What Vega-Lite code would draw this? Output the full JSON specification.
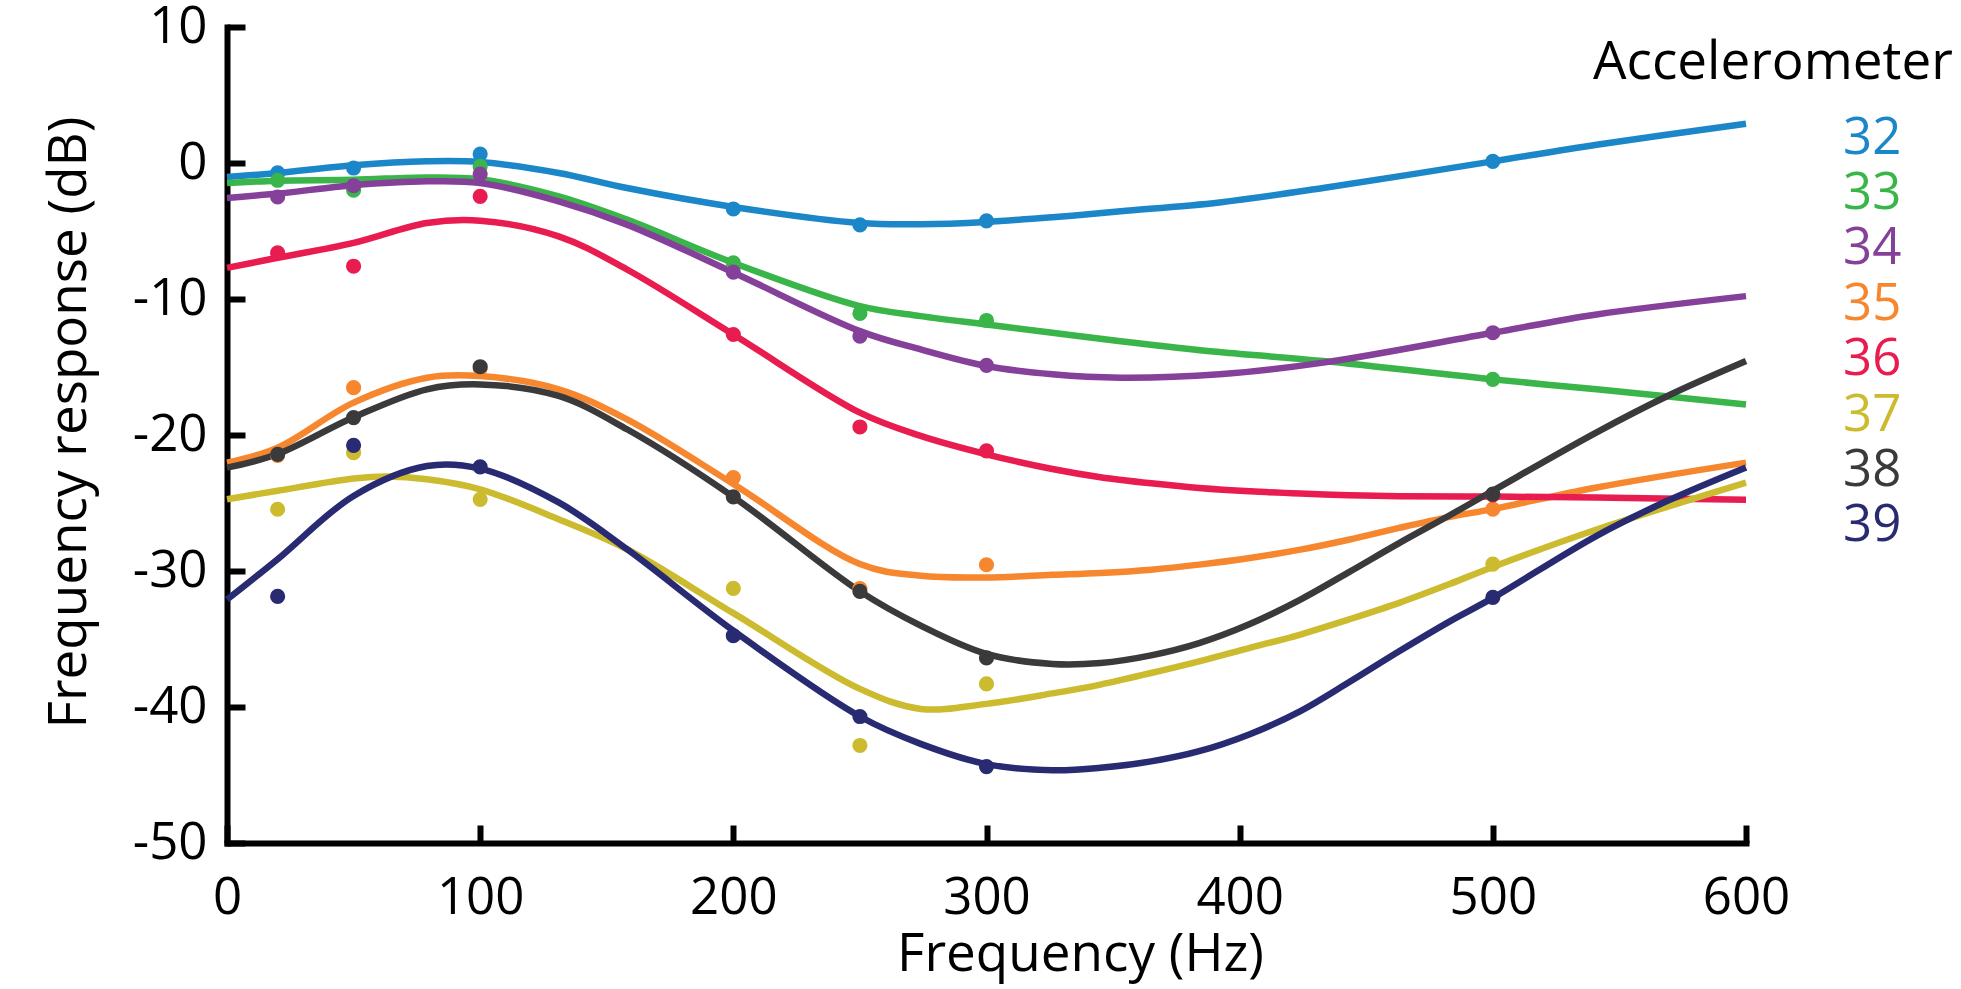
{
  "$schema": "https://vega.github.io/schema/vega-lite/v6.json",
  "width": 1519,
  "height": 816,
  "autosize": {"type": "none"},
  "padding": {"left": 227, "top": 27, "right": 215, "bottom": 146},
  "background": "white",
  "config": {
    "view": {"stroke": null},
    "font": "Open Sans",
    "axis": {
      "grid": false,
      "domainColor": "black",
      "domainWidth": 6,
      "domainCap": "square",
      "tickColor": "black",
      "tickWidth": 6,
      "tickSize": -18,
      "labelFont": "Open Sans",
      "labelFontSize": 51,
      "labelColor": "black",
      "labelExpr": "'' + datum.value",
      "titleFont": "Open Sans",
      "titleFontSize": 53,
      "titleFontWeight": "normal",
      "titleColor": "black",
      "labelFlush": false,
      "labelOverlap": false
    }
  },
  "datasets": {
    "curves": [
      {"accelerometer": "32", "frequency": 0, "response": -1.03},
      {"accelerometer": "32", "frequency": 20, "response": -0.73},
      {"accelerometer": "32", "frequency": 50, "response": -0.17},
      {"accelerometer": "32", "frequency": 79, "response": 0.12},
      {"accelerometer": "32", "frequency": 100, "response": 0.07},
      {"accelerometer": "32", "frequency": 131, "response": -0.73},
      {"accelerometer": "32", "frequency": 158, "response": -1.84},
      {"accelerometer": "32", "frequency": 200, "response": -3.23},
      {"accelerometer": "32", "frequency": 250, "response": -4.41},
      {"accelerometer": "32", "frequency": 274, "response": -4.5},
      {"accelerometer": "32", "frequency": 300, "response": -4.33},
      {"accelerometer": "32", "frequency": 326, "response": -3.99},
      {"accelerometer": "32", "frequency": 353, "response": -3.55},
      {"accelerometer": "32", "frequency": 392, "response": -2.9},
      {"accelerometer": "32", "frequency": 433, "response": -1.84},
      {"accelerometer": "32", "frequency": 500, "response": 0.12},
      {"accelerometer": "32", "frequency": 541, "response": 1.34},
      {"accelerometer": "32", "frequency": 600, "response": 2.89},

      {"accelerometer": "33", "frequency": 0, "response": -1.47},
      {"accelerometer": "33", "frequency": 20, "response": -1.3},
      {"accelerometer": "33", "frequency": 50, "response": -1.23},
      {"accelerometer": "33", "frequency": 79, "response": -1.06},
      {"accelerometer": "33", "frequency": 100, "response": -1.2},
      {"accelerometer": "33", "frequency": 131, "response": -2.45},
      {"accelerometer": "33", "frequency": 158, "response": -4.16},
      {"accelerometer": "33", "frequency": 200, "response": -7.34},
      {"accelerometer": "33", "frequency": 250, "response": -10.53},
      {"accelerometer": "33", "frequency": 274, "response": -11.26},
      {"accelerometer": "33", "frequency": 300, "response": -11.87},
      {"accelerometer": "33", "frequency": 326, "response": -12.48},
      {"accelerometer": "33", "frequency": 353, "response": -13.1},
      {"accelerometer": "33", "frequency": 392, "response": -13.9},
      {"accelerometer": "33", "frequency": 433, "response": -14.56},
      {"accelerometer": "33", "frequency": 500, "response": -15.91},
      {"accelerometer": "33", "frequency": 541, "response": -16.64},
      {"accelerometer": "33", "frequency": 600, "response": -17.75},

      {"accelerometer": "34", "frequency": 0, "response": -2.57},
      {"accelerometer": "34", "frequency": 20, "response": -2.25},
      {"accelerometer": "34", "frequency": 50, "response": -1.64},
      {"accelerometer": "34", "frequency": 79, "response": -1.35},
      {"accelerometer": "34", "frequency": 100, "response": -1.47},
      {"accelerometer": "34", "frequency": 131, "response": -2.82},
      {"accelerometer": "34", "frequency": 158, "response": -4.53},
      {"accelerometer": "34", "frequency": 200, "response": -8.05},
      {"accelerometer": "34", "frequency": 250, "response": -12.36},
      {"accelerometer": "34", "frequency": 274, "response": -13.71},
      {"accelerometer": "34", "frequency": 300, "response": -14.93},
      {"accelerometer": "34", "frequency": 326, "response": -15.54},
      {"accelerometer": "34", "frequency": 353, "response": -15.79},
      {"accelerometer": "34", "frequency": 392, "response": -15.54},
      {"accelerometer": "34", "frequency": 433, "response": -14.68},
      {"accelerometer": "34", "frequency": 500, "response": -12.48},
      {"accelerometer": "34", "frequency": 541, "response": -11.14},
      {"accelerometer": "34", "frequency": 600, "response": -9.79},

      {"accelerometer": "35", "frequency": 0, "response": -22.03},
      {"accelerometer": "35", "frequency": 20, "response": -20.93},
      {"accelerometer": "35", "frequency": 50, "response": -17.62},
      {"accelerometer": "35", "frequency": 79, "response": -15.79},
      {"accelerometer": "35", "frequency": 100, "response": -15.67},
      {"accelerometer": "35", "frequency": 131, "response": -16.64},
      {"accelerometer": "35", "frequency": 158, "response": -18.85},
      {"accelerometer": "35", "frequency": 200, "response": -23.6},
      {"accelerometer": "35", "frequency": 250, "response": -29.49},
      {"accelerometer": "35", "frequency": 274, "response": -30.35},
      {"accelerometer": "35", "frequency": 300, "response": -30.47},
      {"accelerometer": "35", "frequency": 326, "response": -30.28},
      {"accelerometer": "35", "frequency": 345, "response": -30.14},
      {"accelerometer": "35", "frequency": 365, "response": -29.9},
      {"accelerometer": "35", "frequency": 384, "response": -29.53},
      {"accelerometer": "35", "frequency": 404, "response": -29.04},
      {"accelerometer": "35", "frequency": 424, "response": -28.43},
      {"accelerometer": "35", "frequency": 443, "response": -27.7},
      {"accelerometer": "35", "frequency": 463, "response": -26.83},
      {"accelerometer": "35", "frequency": 483, "response": -26.02},
      {"accelerometer": "35", "frequency": 500, "response": -25.45},
      {"accelerometer": "35", "frequency": 541, "response": -23.86},
      {"accelerometer": "35", "frequency": 600, "response": -22.03},

      {"accelerometer": "36", "frequency": 0, "response": -7.71},
      {"accelerometer": "36", "frequency": 20, "response": -6.97},
      {"accelerometer": "36", "frequency": 50, "response": -5.87},
      {"accelerometer": "36", "frequency": 79, "response": -4.41},
      {"accelerometer": "36", "frequency": 100, "response": -4.24},
      {"accelerometer": "36", "frequency": 131, "response": -5.39},
      {"accelerometer": "36", "frequency": 158, "response": -7.83},
      {"accelerometer": "36", "frequency": 200, "response": -12.61},
      {"accelerometer": "36", "frequency": 250, "response": -18.36},
      {"accelerometer": "36", "frequency": 274, "response": -20.07},
      {"accelerometer": "36", "frequency": 300, "response": -21.42},
      {"accelerometer": "36", "frequency": 326, "response": -22.5},
      {"accelerometer": "36", "frequency": 345, "response": -23.1},
      {"accelerometer": "36", "frequency": 365, "response": -23.55},
      {"accelerometer": "36", "frequency": 384, "response": -23.89},
      {"accelerometer": "36", "frequency": 404, "response": -24.14},
      {"accelerometer": "36", "frequency": 424, "response": -24.31},
      {"accelerometer": "36", "frequency": 443, "response": -24.43},
      {"accelerometer": "36", "frequency": 463, "response": -24.5},
      {"accelerometer": "36", "frequency": 500, "response": -24.53},
      {"accelerometer": "36", "frequency": 541, "response": -24.6},
      {"accelerometer": "36", "frequency": 600, "response": -24.77},

      {"accelerometer": "37", "frequency": 0, "response": -24.73},
      {"accelerometer": "37", "frequency": 20, "response": -24.1},
      {"accelerometer": "37", "frequency": 50, "response": -23.2},
      {"accelerometer": "37", "frequency": 63, "response": -23.05},
      {"accelerometer": "37", "frequency": 79, "response": -23.25},
      {"accelerometer": "37", "frequency": 100, "response": -23.99},
      {"accelerometer": "37", "frequency": 131, "response": -26.19},
      {"accelerometer": "37", "frequency": 158, "response": -28.4},
      {"accelerometer": "37", "frequency": 200, "response": -33.1},
      {"accelerometer": "37", "frequency": 250, "response": -38.67},
      {"accelerometer": "37", "frequency": 274, "response": -40.14},
      {"accelerometer": "37", "frequency": 300, "response": -39.77},
      {"accelerometer": "37", "frequency": 326, "response": -39.0},
      {"accelerometer": "37", "frequency": 345, "response": -38.35},
      {"accelerometer": "37", "frequency": 365, "response": -37.5},
      {"accelerometer": "37", "frequency": 384, "response": -36.64},
      {"accelerometer": "37", "frequency": 404, "response": -35.65},
      {"accelerometer": "37", "frequency": 424, "response": -34.67},
      {"accelerometer": "37", "frequency": 443, "response": -33.57},
      {"accelerometer": "37", "frequency": 463, "response": -32.34},
      {"accelerometer": "37", "frequency": 483, "response": -30.95},
      {"accelerometer": "37", "frequency": 500, "response": -29.7},
      {"accelerometer": "37", "frequency": 541, "response": -26.95},
      {"accelerometer": "37", "frequency": 600, "response": -23.5},

      {"accelerometer": "38", "frequency": 0, "response": -22.4},
      {"accelerometer": "38", "frequency": 20, "response": -21.4},
      {"accelerometer": "38", "frequency": 50, "response": -18.7},
      {"accelerometer": "38", "frequency": 79, "response": -16.64},
      {"accelerometer": "38", "frequency": 100, "response": -16.28},
      {"accelerometer": "38", "frequency": 131, "response": -17.13},
      {"accelerometer": "38", "frequency": 158, "response": -19.58},
      {"accelerometer": "38", "frequency": 200, "response": -24.55},
      {"accelerometer": "38", "frequency": 250, "response": -31.5},
      {"accelerometer": "38", "frequency": 274, "response": -34.02},
      {"accelerometer": "38", "frequency": 300, "response": -36.1},
      {"accelerometer": "38", "frequency": 326, "response": -36.83},
      {"accelerometer": "38", "frequency": 345, "response": -36.76},
      {"accelerometer": "38", "frequency": 365, "response": -36.2},
      {"accelerometer": "38", "frequency": 384, "response": -35.3},
      {"accelerometer": "38", "frequency": 404, "response": -33.9},
      {"accelerometer": "38", "frequency": 424, "response": -32.1},
      {"accelerometer": "38", "frequency": 443, "response": -30.1},
      {"accelerometer": "38", "frequency": 463, "response": -27.95},
      {"accelerometer": "38", "frequency": 483, "response": -25.9},
      {"accelerometer": "38", "frequency": 500, "response": -24.1},
      {"accelerometer": "38", "frequency": 541, "response": -19.8},
      {"accelerometer": "38", "frequency": 569, "response": -17.13},
      {"accelerometer": "38", "frequency": 600, "response": -14.56},

      {"accelerometer": "39", "frequency": 0, "response": -32.1},
      {"accelerometer": "39", "frequency": 20, "response": -29.13},
      {"accelerometer": "39", "frequency": 50, "response": -24.48},
      {"accelerometer": "39", "frequency": 79, "response": -22.28},
      {"accelerometer": "39", "frequency": 100, "response": -22.47},
      {"accelerometer": "39", "frequency": 131, "response": -24.96},
      {"accelerometer": "39", "frequency": 158, "response": -28.4},
      {"accelerometer": "39", "frequency": 200, "response": -34.39},
      {"accelerometer": "39", "frequency": 250, "response": -40.7},
      {"accelerometer": "39", "frequency": 274, "response": -42.71},
      {"accelerometer": "39", "frequency": 300, "response": -44.2},
      {"accelerometer": "39", "frequency": 326, "response": -44.65},
      {"accelerometer": "39", "frequency": 345, "response": -44.47},
      {"accelerometer": "39", "frequency": 365, "response": -44.0},
      {"accelerometer": "39", "frequency": 384, "response": -43.25},
      {"accelerometer": "39", "frequency": 404, "response": -42.0},
      {"accelerometer": "39", "frequency": 424, "response": -40.3},
      {"accelerometer": "39", "frequency": 443, "response": -38.2},
      {"accelerometer": "39", "frequency": 463, "response": -35.9},
      {"accelerometer": "39", "frequency": 483, "response": -33.7},
      {"accelerometer": "39", "frequency": 500, "response": -31.98},
      {"accelerometer": "39", "frequency": 541, "response": -27.41},
      {"accelerometer": "39", "frequency": 569, "response": -24.84},
      {"accelerometer": "39", "frequency": 600, "response": -22.39}
    ],
    "measured": [
      {"accelerometer": "32", "frequency": 20, "response": -0.73},
      {"accelerometer": "32", "frequency": 50, "response": -0.37},
      {"accelerometer": "32", "frequency": 100, "response": 0.66},
      {"accelerometer": "32", "frequency": 200, "response": -3.38},
      {"accelerometer": "32", "frequency": 250, "response": -4.55},
      {"accelerometer": "32", "frequency": 300, "response": -4.26},
      {"accelerometer": "32", "frequency": 500, "response": 0.12},
      {"accelerometer": "33", "frequency": 20, "response": -1.27},
      {"accelerometer": "33", "frequency": 50, "response": -2.0},
      {"accelerometer": "33", "frequency": 100, "response": -0.25},
      {"accelerometer": "33", "frequency": 200, "response": -7.34},
      {"accelerometer": "33", "frequency": 250, "response": -11.06},
      {"accelerometer": "33", "frequency": 300, "response": -11.58},
      {"accelerometer": "33", "frequency": 500, "response": -15.91},
      {"accelerometer": "34", "frequency": 20, "response": -2.5},
      {"accelerometer": "34", "frequency": 50, "response": -1.67},
      {"accelerometer": "34", "frequency": 100, "response": -0.81},
      {"accelerometer": "34", "frequency": 200, "response": -8.03},
      {"accelerometer": "34", "frequency": 250, "response": -12.73},
      {"accelerometer": "34", "frequency": 300, "response": -14.88},
      {"accelerometer": "34", "frequency": 500, "response": -12.48},
      {"accelerometer": "35", "frequency": 20, "response": -21.5},
      {"accelerometer": "35", "frequency": 50, "response": -16.52},
      {"accelerometer": "35", "frequency": 100, "response": -15.1},
      {"accelerometer": "35", "frequency": 200, "response": -23.13},
      {"accelerometer": "35", "frequency": 250, "response": -31.3},
      {"accelerometer": "35", "frequency": 300, "response": -29.54},
      {"accelerometer": "35", "frequency": 500, "response": -25.45},
      {"accelerometer": "36", "frequency": 20, "response": -6.61},
      {"accelerometer": "36", "frequency": 50, "response": -7.59},
      {"accelerometer": "36", "frequency": 100, "response": -2.45},
      {"accelerometer": "36", "frequency": 200, "response": -12.61},
      {"accelerometer": "36", "frequency": 250, "response": -19.41},
      {"accelerometer": "36", "frequency": 300, "response": -21.17},
      {"accelerometer": "36", "frequency": 500, "response": -24.4},
      {"accelerometer": "37", "frequency": 20, "response": -25.46},
      {"accelerometer": "37", "frequency": 50, "response": -21.3},
      {"accelerometer": "37", "frequency": 100, "response": -24.73},
      {"accelerometer": "37", "frequency": 200, "response": -31.28},
      {"accelerometer": "37", "frequency": 250, "response": -42.83},
      {"accelerometer": "37", "frequency": 300, "response": -38.3},
      {"accelerometer": "37", "frequency": 500, "response": -29.49},
      {"accelerometer": "38", "frequency": 20, "response": -21.42},
      {"accelerometer": "38", "frequency": 50, "response": -18.72},
      {"accelerometer": "38", "frequency": 100, "response": -14.98},
      {"accelerometer": "38", "frequency": 200, "response": -24.55},
      {"accelerometer": "38", "frequency": 250, "response": -31.5},
      {"accelerometer": "38", "frequency": 300, "response": -36.39},
      {"accelerometer": "38", "frequency": 500, "response": -24.35},
      {"accelerometer": "39", "frequency": 20, "response": -31.87},
      {"accelerometer": "39", "frequency": 50, "response": -20.76},
      {"accelerometer": "39", "frequency": 100, "response": -22.35},
      {"accelerometer": "39", "frequency": 200, "response": -34.76},
      {"accelerometer": "39", "frequency": 250, "response": -40.7},
      {"accelerometer": "39", "frequency": 300, "response": -44.38},
      {"accelerometer": "39", "frequency": 500, "response": -31.94}
    ]
  },
  "encoding": {
    "x": {
      "field": "frequency",
      "type": "quantitative",
      "scale": {"domain": [0, 600], "nice": false, "zero": false},
      "axis": {
        "values": [0, 100, 200, 300, 400, 500, 600],
        "title": "Frequency (Hz)",
        "labelPadding": 48,
        "titleX": 853,
        "titleY": 127,
        "titleAlign": "center",
        "titleBaseline": "alphabetic",
        "titleAnchor": null
      }
    },
    "y": {
      "field": "response",
      "type": "quantitative",
      "scale": {"domain": [-50, 10], "nice": false, "zero": false},
      "axis": {
        "values": [-50, -40, -30, -20, -10, 0, 10],
        "title": "Frequency response (dB)",
        "labelPadding": 38,
        "titleX": -142,
        "titleY": 395,
        "titleAngle": -90,
        "titleAlign": "center",
        "titleBaseline": "alphabetic",
        "titleAnchor": null
      }
    },
    "color": {
      "field": "accelerometer",
      "type": "nominal",
      "scale": {
        "domain": ["32", "33", "34", "35", "36", "37", "38", "39"],
        "range": ["#1b87c9", "#39b54a", "#85409a", "#f6872f", "#e81c4f", "#ccbb2f", "#3a3a3c", "#282a72"]
      },
      "legend": {
        "title": "Accelerometer",
        "orient": "none",
        "legendX": 1366,
        "legendY": 10,
        "padding": 0,
        "titleFont": "Open Sans",
        "titleFontSize": 53,
        "titleFontWeight": "normal",
        "titleColor": "black",
        "titleLimit": 1000,
        "titlePadding": 23,
        "labelFont": "Open Sans",
        "labelFontSize": 51,
        "labelOffset": 199,
        "labelLimit": 1000,
        "rowPadding": 3.4,
        "symbolSize": 0,
        "symbolOpacity": 0,
        "symbolStrokeWidth": 0,
        "encode": {
          "labels": {"update": {"fill": {"scale": "color", "field": "value"}}}
        }
      }
    }
  },
  "layer": [
    {
      "data": {"name": "curves"},
      "mark": {"type": "line", "interpolate": "catmull-rom", "strokeWidth": 6.5}
    },
    {
      "data": {"name": "measured"},
      "mark": {"type": "point", "filled": true, "opacity": 1, "size": 230}
    }
  ]
}
